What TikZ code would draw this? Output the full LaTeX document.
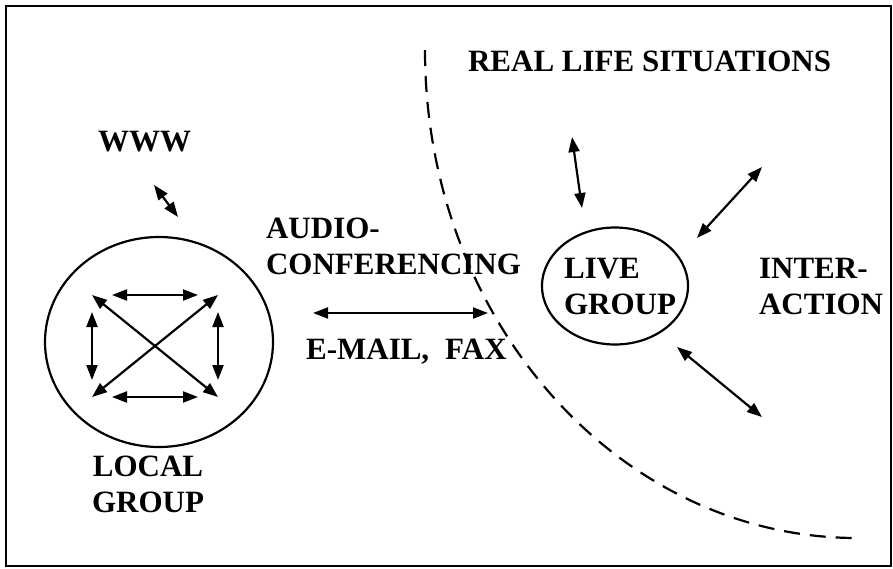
\documentclass[tikz,border=0pt]{standalone}
\usepackage{fontspec}
\setmainfont{Liberation Serif}
\usetikzlibrary{arrows.meta,shapes.geometric}

\begin{document}
\begin{tikzpicture}[x=1pt,y=-1pt,font=\fontsize{31}{36}\selectfont\bfseries,line width=2.2pt]
    \tikzstyle{group ring}=[ellipse,draw,inner sep=0]
    \tikzstyle{tag}=[inner sep=0,anchor=north west,align=left]
    \tikzstyle{link}=[{Triangle[length=15pt,width=11pt]}-{Triangle[length=15pt,width=11pt]}]
    \tikzstyle{border}=[dashed,dash pattern=on 16pt off 10pt]

    \useasboundingbox (0,0) rectangle (893,568);
    \draw[line width=1.8pt] (6,6) rectangle (891,566);

    % local group with its inner links
    \node(local)[group ring,minimum width=228,minimum height=210] at (159,342){};
    \coordinate(tl) at (92,295);
    \coordinate(tr) at (218,295);
    \coordinate(bl) at (92,397);
    \coordinate(br) at (218,397);
    \draw[link,shorten <=20pt,shorten >=20pt] (tl) -- (tr);
    \draw[link,shorten <=20pt,shorten >=20pt] (bl) -- (br);
    \draw[link,shorten <=17pt,shorten >=17pt] (tl) -- (bl);
    \draw[link,shorten <=17pt,shorten >=17pt] (tr) -- (br);
    \draw[link] (tl) -- (br);
    \draw[link] (tr) -- (bl);
    \node(localtag)[inner sep=0,anchor=north,align=center] at (148,455){LOCAL\\GROUP};

    % www
    \node(www)[tag] at (97,130){WWW};
    \coordinate(w1) at (154,185);
    \coordinate(w2) at (178,217);
    \draw[link] (w1) -- (w2);

    % distance links
    \node(audio)[tag] at (265,217){AUDIO-\\CONFERENCING};
    \coordinate(m1) at (313,313);
    \coordinate(m2) at (488,313);
    \draw[link] (m1) -- (m2);
    \node(mail)[tag] at (305,338){E-MAIL,\hspace{16pt}FAX};

    % live group
    \node(live)[group ring,minimum width=146,minimum height=117] at (615,286){};
    \node(livetag)[tag] at (563,257){LIVE\\GROUP};
    \node(inter)[tag] at (758,257){INTER-\\ACTION};
    \node(real)[tag] at (467,50){REAL LIFE SITUATIONS};
    \coordinate(a1) at (572,137);
    \coordinate(a2) at (582,208);
    \coordinate(b1) at (762,167);
    \coordinate(b2) at (697,238);
    \coordinate(c1) at (677,347);
    \coordinate(c2) at (762,417);
    \draw[link] (a1) -- (a2);
    \draw[link] (b1) -- (b2);
    \draw[link] (c1) -- (c2);

    % boundary of real life
    \draw[border] (425,50) arc[start angle=180,end angle=90,x radius=432,y radius=488];
\end{tikzpicture}
\end{document}
